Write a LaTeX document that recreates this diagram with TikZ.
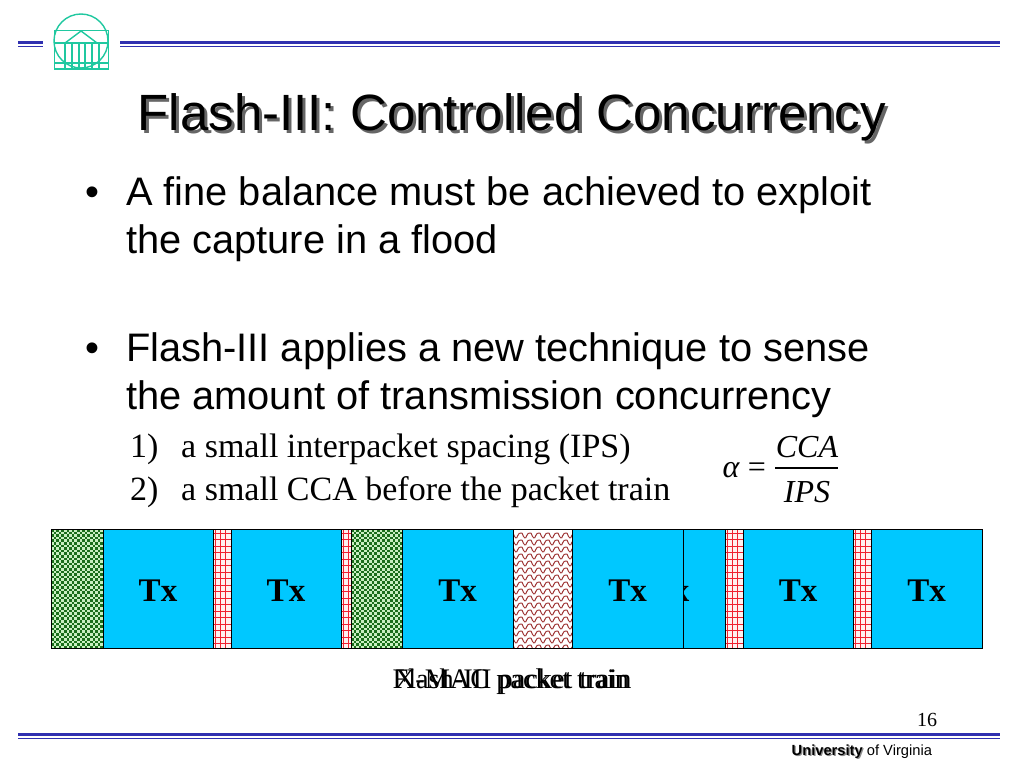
\documentclass[tikz,border=0pt]{standalone}
\usepackage{fontspec}
\setmainfont{Liberation Serif}
\newfontfamily\arialf{Liberation Sans}
\definecolor{ruleblue}{HTML}{3030B0}
\definecolor{logoteal}{HTML}{20C8A0}
\definecolor{txblue}{HTML}{00C8FF}
\definecolor{chkgreen}{HTML}{1A6E1A}
\definecolor{chklight}{HTML}{C8EFC0}
\definecolor{gridred}{HTML}{F02030}
\definecolor{wavebrown}{HTML}{A03838}
\newcommand{\greenblock}[3]{%
  \fill[chklight] (#1,529) rectangle (#2,648);
  \begin{scope}
    \clip (#1,529) rectangle (#2,648);
    \foreach \i in {0,...,20}{\foreach \j in {0,...,46}{
      \pgfmathtruncatemacro{\chkpar}{mod(\i+\j,2)}
      \ifnum\chkpar=0 \fill[chkgreen] ({#1+2.6*\i},{529+2.6*\j}) rectangle ++(2.6,2.6);\fi
    }}
  \end{scope}
  \node[blk,minimum width=#2 pt-#1 pt] (#3) at ({(#1+#2)/2},588.5) {};
}
\newcommand{\redblock}[3]{%
  \fill[white!94!red] (#1,529) rectangle (#2,648);
  \begin{scope}
    \clip (#1,529) rectangle (#2,648);
    \foreach \x in {0,5.3,...,30}{\draw[gridred,line width=.8pt] ({#1+2+\x},529) -- ({#1+2+\x},648);}
    \foreach \y in {533,539.5,...,648}{\draw[gridred,line width=.8pt] (#1,\y) -- (#2,\y);}
  \end{scope}
  \node[blk,minimum width=#2 pt-#1 pt] (#3) at ({(#1+#2)/2},588.5) {};
}
\newcommand{\txblock}[3]{%
  \node[blk,fill=txblue,minimum width=#2 pt-#1 pt] (#3) at ({(#1+#2)/2},588.5) {};
  \node[txlabel] (#3t) at ({(#1+#2)/2},591) {Tx};
}
\tikzset{
  blk/.style={draw=black,line width=1pt,minimum height=119pt,inner sep=0pt,outer sep=0pt},
  txlabel/.style={font=\bfseries\fontsize{33}{33}\selectfont,text=black,inner sep=0pt},
  ruleline/.style={ruleblue,line width=3pt},
  thinrule/.style={ruleblue,line width=.8pt},
  logoline/.style={logoteal,line width=1.4pt},
  bodytext/.style={anchor=base west,inner sep=0pt,font=\arialf\fontsize{39.8}{40}\selectfont},
  subtext/.style={anchor=base west,inner sep=0pt,font=\fontsize{34}{34}\selectfont},
  mathtext/.style={inner sep=0pt,font=\itshape\fontsize{32}{32}\selectfont},
  trainlabel/.style={anchor=base,inner sep=0pt,font=\fontsize{28.3}{28.3}\selectfont},
}
\begin{document}
\begin{tikzpicture}[x=1pt,y=-1pt]
\useasboundingbox[fill=white] (0,0) rectangle (1024,768);
% rules
\draw[ruleline] (18,43) -- (43,43);
\draw[thinrule] (18,46) -- (43,46);
\draw[ruleline] (120,43) -- (1000,43);
\draw[thinrule] (120,46) -- (1000,46);
\draw[ruleline] (18,734.5) -- (1000,734.5);
\draw[thinrule] (18,738) -- (1000,738);
% logo
\draw[logoline] (81,41) circle (27);
\draw[logoline] (54.5,30.5) rectangle (108.5,69);
\draw[logoline] (54.5,43) -- (108.5,43);
\draw[logoline] (54.5,63) -- (108.5,63);
\draw[logoline] (65,43) -- (81,31) -- (97,43);
\foreach \x in {65,72,79,85,92,99}{\draw[logoline] (\x,43) -- (\x,69);}
% title
\node[anchor=base west,inner sep=0pt,font=\arialf\fontsize{51}{51}\selectfont,text=black!60] (titleshadow) at (140.5,133) {Flash-III: Controlled Concurrency};
\node[anchor=base west,inner sep=0pt,font=\arialf\fontsize{51}{51}\selectfont] (title) at (137.5,130) {Flash-III: Controlled Concurrency};
% body
\node[bodytext] (b1) at (85,205) {•};
\node[bodytext] (l1) at (126,205) {A fine balance must be achieved to exploit};
\node[bodytext] (l2) at (126,253) {the capture in a flood};
\node[bodytext] (b2) at (85,361) {•};
\node[bodytext] (l3) at (126,361) {Flash-III applies a new technique to sense};
\node[bodytext] (l4) at (126,409) {the amount of transmission concurrency};
\node[subtext] (n1) at (130,457) {1)};
\node[subtext] (s1) at (181,457) {a small interpacket spacing (IPS)};
\node[subtext] (n2) at (130,500) {2)};
\node[subtext] (s2) at (181,500) {a small CCA before the packet train};
% formula
\node[mathtext,anchor=base] (alpha) at (731,477) {α};
\node[inner sep=0pt,anchor=base,font=\fontsize{32}{32}\selectfont] (eq) at (757,477) {=};
\node[mathtext,anchor=base] (cca) at (807,457) {CCA};
\node[mathtext,anchor=base] (ips) at (807,502) {IPS};
\draw[line width=1.1pt] (775,468) -- (838,468);
% back train
\txblock{615}{725}{t5}
\redblock{725}{743}{r3}
\txblock{743}{853}{t6}
\redblock{853}{871}{r4}
\txblock{871}{982}{t7}
% front train
\greenblock{51}{103}{g1}
\txblock{103}{213}{t1}
\redblock{213}{231}{r1}
\txblock{231}{341}{t2}
\redblock{341}{351}{r2}
\greenblock{351}{402}{g2}
\txblock{402}{513}{t3}
\fill[white] (513,529) rectangle (572,648);
\begin{scope}
  \clip (513,529) rectangle (572,648);
  \foreach \y in {533,540,...,648}{
    \foreach \x in {0,1,...,6}{
      \draw[wavebrown,line width=1pt] ({513+9*\x},\y) .. controls ({515+9*\x},{\y+6}) and ({517+9*\x},{\y+6}) .. ({517.5+9*\x},{\y+3}) .. controls ({518+9*\x},{\y}) and ({520+9*\x},{\y}) .. ({522+9*\x},\y);
    }
  }
\end{scope}
\node[blk,minimum width=59pt] (w1) at (542.5,588.5) {};
\txblock{572}{683}{t4}
% train labels
\node[trainlabel] (xmac) at (512,688) {X-MAC packet train};
\node[trainlabel] (flash) at (512,688) {Flash-III packet train};
% footer
\node[anchor=base,inner sep=0pt,font=\fontsize{20}{20}\selectfont] (page) at (927,726) {16};
\node[anchor=base west,inner sep=0pt,font=\arialf\fontsize{14.7}{14.7}\selectfont,text=black!45] (unishadow) at (792.7,756.7) {\textbf{University}};
\node[anchor=base west,inner sep=0pt,font=\arialf\fontsize{14.7}{14.7}\selectfont] (uni) at (791.5,755.5) {\textbf{University} of Virginia};
\end{tikzpicture}
\end{document}
